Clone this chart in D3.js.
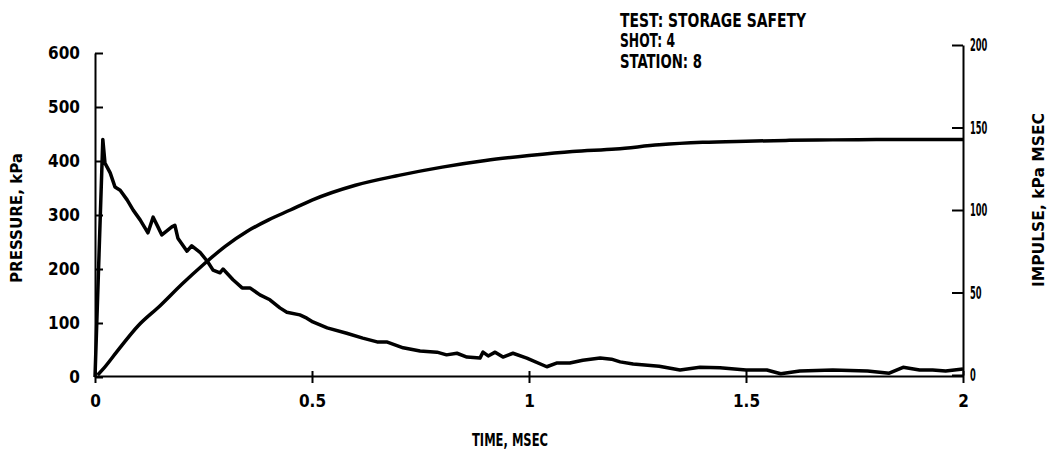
<!DOCTYPE html>
<html>
<head>
<meta charset="utf-8">
<script src="https://cdn.jsdelivr.net/npm/d3@7"></script>
<style>
  html, body { margin: 0; padding: 0; background: #fff; }
  svg { display: block; }
  text { font-family: "DejaVu Sans Condensed", "DejaVu Sans", sans-serif; font-weight: bold; fill: #000; }
</style>
</head>
<body>
<svg id="chart" width="1053" height="461"></svg>
<script>
// ---- data ----
const headerLines = ["TEST: STORAGE SAFETY", "SHOT: 4", "STATION: 8"];
const xTicks = [0, 0.5, 1, 1.5, 2];
const xTickLabels = ["0", "0.5", "1", "1.5", "2"];
const pressureTicks = [0, 100, 200, 300, 400, 500, 600];
const impulseTicks = [0, 50, 100, 150, 200];

const pressureTime = [0, 0.018, 0.023, 0.035, 0.046, 0.058, 0.074, 0.088, 0.104, 0.122, 0.134, 0.145, 0.154, 0.177, 0.184, 0.191, 0.212, 0.223, 0.242, 0.26, 0.272, 0.288, 0.295, 0.318, 0.339, 0.357, 0.380, 0.403, 0.426, 0.442, 0.472, 0.488, 0.502, 0.535, 0.58, 0.617, 0.650, 0.672, 0.71, 0.749, 0.788, 0.81, 0.834, 0.857, 0.887, 0.894, 0.906, 0.922, 0.940, 0.963, 0.995, 1.041, 1.065, 1.094, 1.124, 1.164, 1.19, 1.21, 1.24, 1.30, 1.348, 1.394, 1.44, 1.50, 1.548, 1.58, 1.624, 1.70, 1.78, 1.83, 1.862, 1.90, 1.93, 1.96, 2.0];
const pressureValues = [0, 440, 396, 378, 352, 346, 328, 309, 291, 267, 296, 278, 263, 278, 281, 257, 233, 243, 231, 213, 198, 193, 200, 180, 165, 165, 152, 143, 128, 120, 115, 109, 102, 91, 81, 72, 65, 65, 54, 48, 46, 41, 44, 37, 35, 46, 39, 46, 37, 44, 35, 19, 26, 26, 31, 35, 33, 28, 24, 20, 13, 18, 17, 13, 13, 6, 11, 13, 11, 7, 18, 13, 13, 11, 15];

const impulseTime = [0.006, 0.02, 0.05, 0.1, 0.15, 0.2, 0.25, 0.3, 0.35, 0.4, 0.45, 0.5, 0.6, 0.7, 0.8, 0.9, 1.0, 1.1, 1.2, 1.3, 1.4, 1.5, 1.6, 1.7, 1.8, 1.9, 2.0];
const impulseValues = [0, 4, 14, 30, 42, 55, 67, 78, 87, 94, 100, 106, 115, 121, 126, 130, 133, 135.5, 137, 139.5, 141, 141.7, 142.2, 142.5, 142.7, 142.8, 142.8];

// ---- scales ----
const svg = d3.select("#chart");
const x = d3.scaleLinear().domain([0, 2]).range([95, 963]);
const yP = d3.scaleLinear().domain([0, 600]).range([377, 53]);
const yI = d3.scaleLinear().domain([0, 200]).range([375, 45]);

// ---- axes ----
const gx = svg.append("g").attr("transform", "translate(0,376)")
  .call(d3.axisBottom(x).tickValues(xTicks).tickFormat((d, i) => xTickLabels[i])
    .tickSizeInner(7).tickSizeOuter(0).tickPadding(12));
gx.selectAll(".tick line").attr("y1", -5).attr("y2", 7);

const gl = svg.append("g").attr("transform", "translate(95,0)")
  .call(d3.axisLeft(yP).tickValues(pressureTicks).tickSizeInner(-8).tickSizeOuter(0).tickPadding(15));

const gr = svg.append("g").attr("transform", "translate(963,0)")
  .call(d3.axisRight(yI).tickValues(impulseTicks).tickSizeInner(-11).tickSizeOuter(0).tickPadding(7));
gr.selectAll(".tick text").each(function(d) {
  const s = String(d);
  d3.select(this).attr("textLength", s.length * 5.8).attr("lengthAdjust", "spacingAndGlyphs");
});

[gx, gl, gr].forEach(g => {
  g.selectAll("path.domain").attr("stroke", "#000").attr("stroke-width", 2);
  g.selectAll(".tick line").attr("stroke", "#000").attr("stroke-width", 2);
  g.selectAll(".tick text").attr("font-size", 17)
    .attr("font-family", "'DejaVu Sans Condensed', 'DejaVu Sans', sans-serif")
    .attr("font-weight", "bold").attr("fill", "#000");
});
gr.selectAll(".tick text").attr("font-size", 18);

// ---- lines ----
const pressure = pressureTime.map((t, i) => [t, pressureValues[i]]);
const impulse = impulseTime.map((t, i) => [t, impulseValues[i]]);

svg.append("path").datum(pressure)
  .attr("fill", "none").attr("stroke", "#000").attr("stroke-width", 3.5)
  .attr("stroke-linejoin", "round")
  .attr("d", d3.line().x(d => x(d[0])).y(d => yP(d[1])));

svg.append("path").datum(impulse)
  .attr("fill", "none").attr("stroke", "#000").attr("stroke-width", 3.5)
  .attr("d", d3.line().curve(d3.curveMonotoneX).x(d => x(d[0])).y(d => yI(d[1])));

// ---- texts ----
svg.append("text").attr("x", 510).attr("y", 446).attr("text-anchor", "middle")
  .attr("font-size", 17).attr("textLength", 76).attr("lengthAdjust", "spacingAndGlyphs")
  .text("TIME, MSEC");

svg.append("text").attr("transform", "translate(22,218) rotate(-90)").attr("text-anchor", "middle")
  .attr("font-size", 16).attr("textLength", 130).attr("lengthAdjust", "spacingAndGlyphs")
  .text("PRESSURE, kPa");

svg.append("text").attr("transform", "translate(1044,200) rotate(-90)").attr("text-anchor", "middle")
  .attr("font-size", 16).attr("textLength", 174).attr("lengthAdjust", "spacingAndGlyphs")
  .text("IMPULSE, kPa MSEC");

const headerWidths = [186, 55, 82];
const headerY = [27, 47, 68];
headerLines.forEach((s, i) => {
  svg.append("text").attr("x", 620).attr("y", headerY[i])
    .attr("font-size", 19).attr("textLength", headerWidths[i]).attr("lengthAdjust", "spacingAndGlyphs")
    .text(s);
});
</script>
</body>
</html>
